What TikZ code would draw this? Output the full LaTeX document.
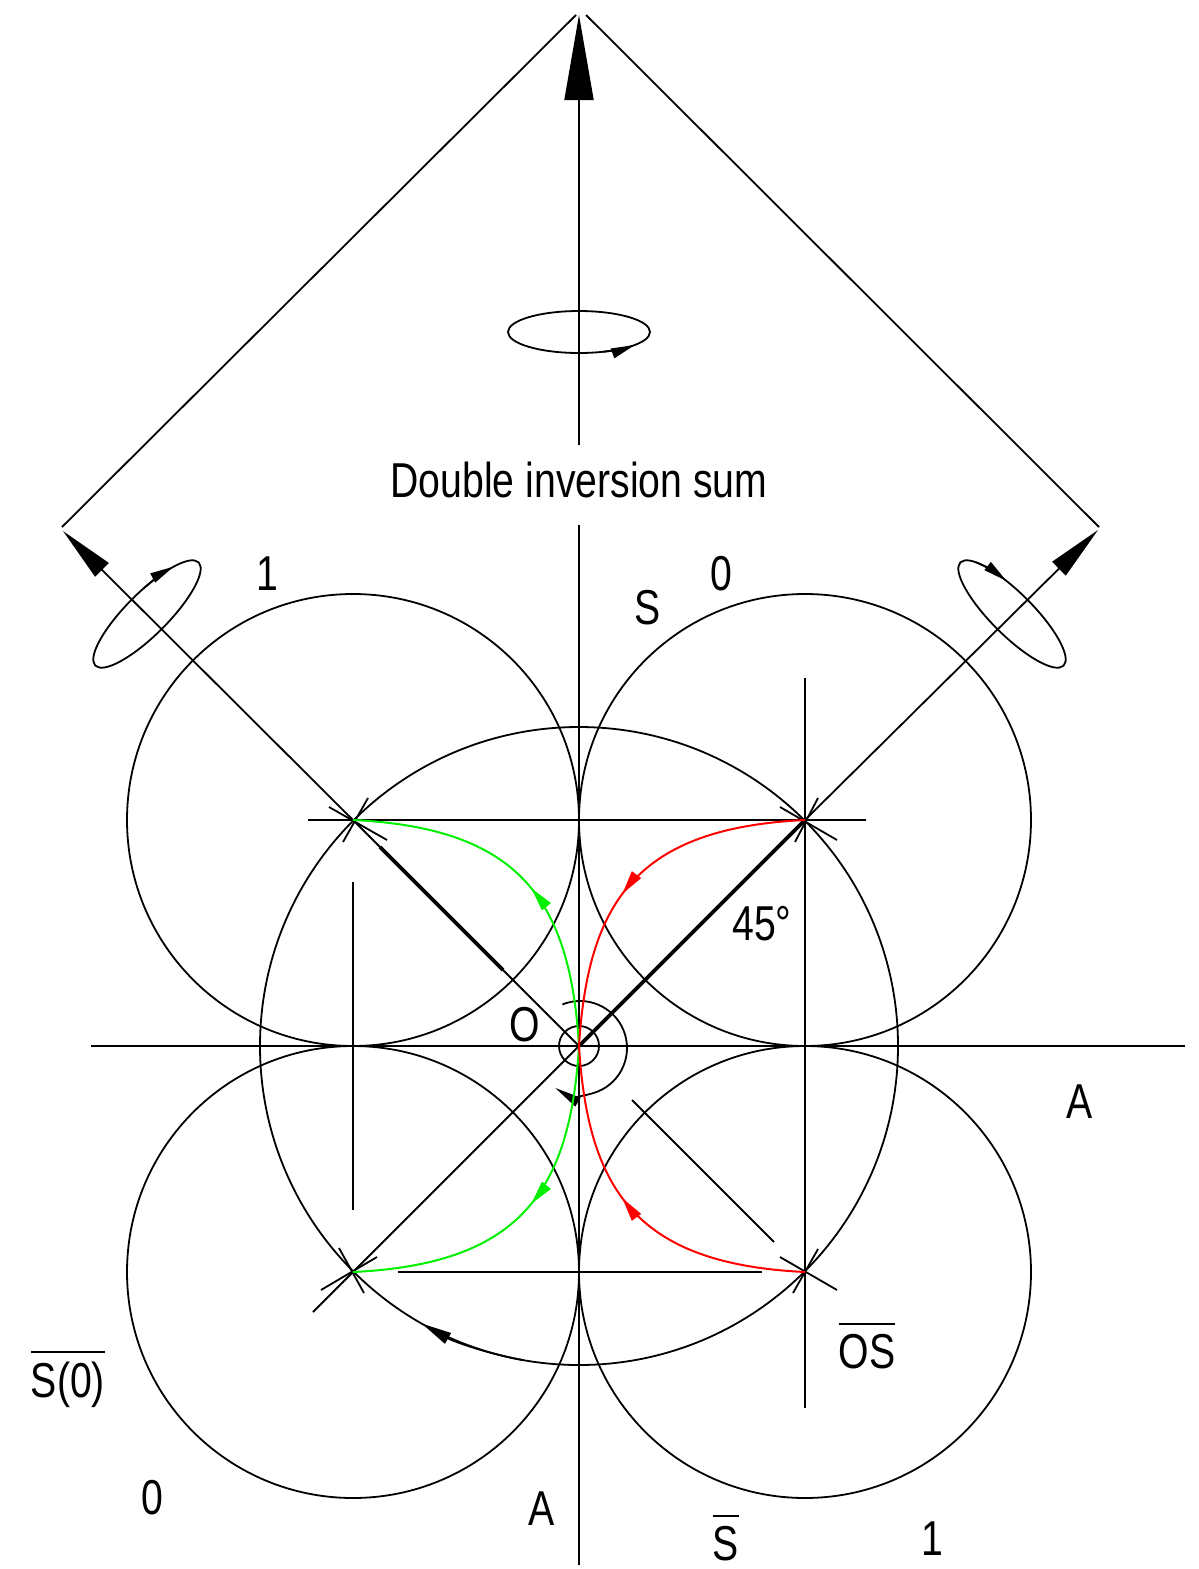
\documentclass[tikz,border=0pt]{standalone}
\usepackage{fontspec}
\setmainfont{Liberation Sans}[FakeStretch=0.8]
\usetikzlibrary{arrows.meta,decorations.markings}
\definecolor{grn}{RGB}{0,240,0}
\definecolor{rd}{RGB}{255,0,0}
\newcommand\ovl[1]{\vbox{\hrule height 1.8pt\kern 9pt\hbox{#1}}}
\begin{document}
\begin{tikzpicture}[x=1pt,y=-1pt, line width=1.8pt,
 lbl/.style={font=\fontsize{49}{58}\selectfont, inner sep=0pt, anchor=base},
 bighead/.style={-{Triangle[length=85pt,width=29pt]}},
 diaghead/.style={-{Triangle[length=55pt,width=19pt]}},
 smallhead/.style={-{Triangle[length=24pt,width=10pt]}},
 thk/.style={line width=3.8pt},
 midarrow/.style={postaction={decorate}, decoration={markings, mark=at position #1 with {\arrow{Triangle[length=24pt,width=11pt]}}}},
]
\useasboundingbox (0,0) rectangle (1199,1569);
% points
\coordinate (O) at (579,1046);
\coordinate (TL) at (353,820);
\coordinate (TR) at (805,820);
\coordinate (BL) at (353,1272);
\coordinate (BR) at (805,1272);
\coordinate (apex) at (579,15);
\coordinate (vtop) at (579,445);
\coordinate (roofL) at (62,527);
\coordinate (roofLa) at (576,15);
\coordinate (roofRa) at (586,15);
\coordinate (roofR) at (1099,527);
\coordinate (tipL) at (63,531);
\coordinate (tipR) at (1098,530);
\coordinate (axL) at (91,1046);
\coordinate (axR) at (1185,1046);
\coordinate (axT) at (579,525);
\coordinate (axB) at (579,1565);
\coordinate (dSW) at (313,1312);
% roof and top arrow
\draw (roofL) -- (roofLa);
\draw (roofRa) -- (roofR);
\draw[bighead] (vtop) -- (apex);
% top ellipse
\begin{scope}[shift={(579,332)}]
 \draw (0,0) ellipse[x radius=71, y radius=21];
 \draw[smallhead] (70:71 and 21) arc[start angle=70, end angle=38, x radius=71, y radius=21];
\end{scope}
% left ellipse
\begin{scope}[shift={(147,614)}, rotate=45]
 \draw (0,0) ellipse[x radius=73, y radius=21];
 \draw[smallhead] (282:73 and 21) arc[start angle=282, end angle=316, x radius=73, y radius=21];
\end{scope}
% right ellipse
\begin{scope}[shift={(1012,614)}, rotate=-45]
 \draw (0,0) ellipse[x radius=73, y radius=21];
 \draw[smallhead] (212:73 and 21) arc[start angle=212, end angle=248, x radius=73, y radius=21];
\end{scope}
% circles
\draw (TL) circle[radius=226];
\draw (TR) circle[radius=226];
\draw (BL) circle[radius=226];
\draw (BR) circle[radius=226];
\draw (O) circle[radius=319];
\draw (O) circle[radius=20];
\draw[-{Triangle[length=30pt,width=12pt]}] (O) ++(100:319) arc[start angle=100, end angle=119.5, radius=319];
\draw[-{Triangle[length=27pt,width=10pt]}] (580,1048) ++(248:47) arc[start angle=248, end angle=482, radius=47];
% axes
\draw (axL) -- (axR);
\draw (axT) -- (axB);
% construction lines
\draw (308,820) -- (866,820);
\draw (398,1272) -- (762,1272);
\draw (805,678) -- (805,1408);
\draw (353,882) -- (353,1210);
\draw (632,1100) -- (774,1242);
% diagonals
\draw[diaghead] (TL) -- (tipL);
\draw (TL) -- (O);
\draw[thk] (380,847) -- (503,970);
\draw[diaghead] (TR) -- (tipR);
\draw (dSW) -- (TR);
\draw[thk] (O) -- (TR);
% ticks at the four points
\draw (329,807) -- (387,840); \draw (368,798) -- (343,842);
\draw (780,807) -- (837,840); \draw (818,798) -- (795,842);
\draw (339,1248) -- (364,1293); \draw (321,1290) -- (377,1257);
\draw (780,1257) -- (837,1290); \draw (818,1249) -- (793,1293);
% green and red paths
\draw[grn, line width=2pt, midarrow=0.46] (O) .. controls (570,900) and (520,828) .. (TL);
\draw[grn, line width=2pt, midarrow=0.46] (O) .. controls (570,1192) and (520,1264) .. (BL);
\draw[rd, line width=2pt, midarrow=0.56] (TR) .. controls (638,828) and (588,900) .. (O);
\draw[rd, line width=2pt, midarrow=0.56] (BR) .. controls (638,1264) and (588,1192) .. (O);
% labels
\node[lbl] (ttl) at (579,497) {Double inversion sum};
\node[lbl] (l1) at (267,590) {1};
\node[lbl] (lS) at (648,624) {S};
\node[lbl] (l0) at (721,590) {0};
\node[lbl] (l45) at (762,940) {45°};
\node[lbl] (lO) at (525,1041) {O};
\node[lbl] (lA) at (1080,1118) {A};
\node[lbl] (lS0) at (68,1397) {\ovl{S(0)}};
\node[lbl] (l0b) at (152,1514) {0};
\node[lbl] (lAb) at (542,1525) {A};
\node[lbl] (lSb) at (726,1560) {\ovl{S}};
\node[lbl] (l1b) at (932,1555) {1};
\node[lbl] (lOS) at (867,1368) {\ovl{OS}};
\end{tikzpicture}
\end{document}
